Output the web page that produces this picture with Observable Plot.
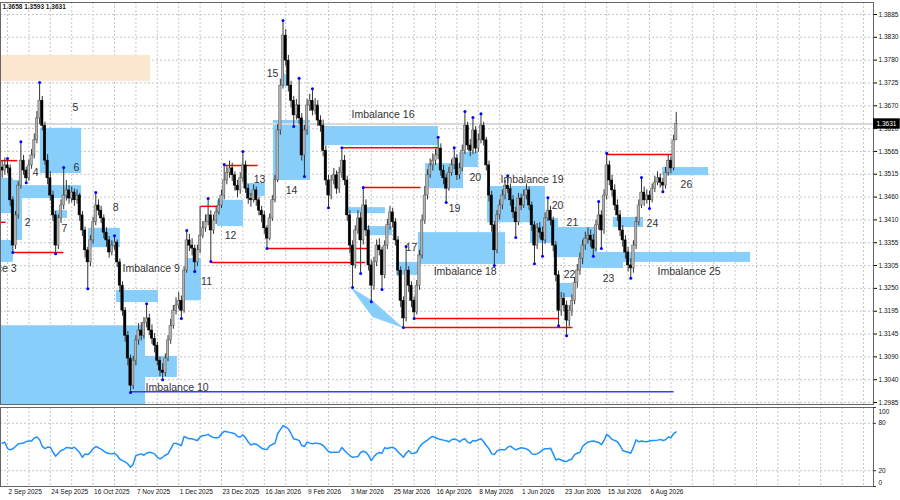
<!DOCTYPE html>
<html><head><meta charset="utf-8">
<script src="https://cdn.jsdelivr.net/npm/d3@7"></script>
<script src="https://cdn.jsdelivr.net/npm/@observablehq/plot@0.6"></script>
<style>
html,body{margin:0;padding:0;background:#fff;width:900px;height:500px;overflow:hidden;}
#chart svg{display:block;overflow:hidden;}
</style></head><body><div id="chart"></div>
<script>
// ---------- data (daily bars, open = previous close) ----------
const firstOpen = 1.3530;
const closes = [
1.3523,1.3535,1.3528,1.3454,1.3349,1.3419,1.3488,1.3546,1.3523,1.3505,
1.3535,1.3558,1.3593,1.3644,1.3685,1.3627,1.3546,1.3505,1.3465,1.3419,
1.3349,1.3412,1.3442,1.3465,1.3477,1.3458,1.3472,1.3454,1.3465,1.3419,
1.3384,1.3338,1.3310,1.3361,1.3403,1.3442,1.3430,1.3412,1.3379,1.3361,
1.3333,1.3349,1.3356,1.3310,1.3256,1.3198,1.3140,1.3087,1.3024,1.3082,
1.3129,1.3152,1.3140,1.3170,1.3180,1.3152,1.3133,1.3117,1.3082,1.3059,
1.3054,1.3087,1.3129,1.3163,1.3198,1.3210,1.3221,1.3198,1.3291,1.3361,
1.3349,1.3342,1.3310,1.3338,1.3372,1.3389,1.3403,1.3419,1.3384,1.3407,
1.3426,1.3442,1.3465,1.3500,1.3518,1.3528,1.3512,1.3488,1.3477,1.3505,
1.3535,1.3481,1.3458,1.3454,1.3477,1.3454,1.3430,1.3419,1.3389,1.3365,
1.3412,1.3454,1.3500,1.3616,1.3720,1.3836,1.3778,1.3720,1.3685,1.3651,
1.3674,1.3644,1.3558,1.3616,1.3674,1.3685,1.3662,1.3674,1.3639,1.3627,
1.3569,1.3500,1.3465,1.3500,1.3512,1.3481,1.3518,1.3546,1.3500,1.3419,
1.3349,1.3303,1.3384,1.3412,1.3361,1.3442,1.3384,1.3303,1.3256,1.3310,
1.3349,1.3338,1.3280,1.3349,1.3396,1.3426,1.3403,1.3361,1.3291,1.3221,
1.3180,1.3291,1.3256,1.3221,1.3194,1.3256,1.3326,1.3407,1.3465,1.3512,
1.3535,1.3546,1.3558,1.3574,1.3523,1.3505,1.3481,1.3518,1.3535,1.3551,
1.3512,1.3528,1.3569,1.3627,1.3581,1.3569,1.3616,1.3574,1.3593,1.3627,
1.3593,1.3535,1.3465,1.3396,1.3338,1.3419,1.3442,1.3465,1.3488,1.3480,
1.3454,1.3426,1.3403,1.3458,1.3442,1.3465,1.3477,1.3442,1.3396,1.3349,
1.3389,1.3379,1.3361,1.3412,1.3430,1.3407,1.3349,1.3280,1.3198,1.3226,
1.3210,1.3175,1.3198,1.3221,1.3263,1.3291,1.3319,1.3349,1.3365,1.3372,
1.3361,1.3342,1.3396,1.3419,1.3384,1.3465,1.3535,1.3500,1.3477,1.3442,
1.3419,1.3384,1.3361,1.3333,1.3303,1.3296,1.3349,1.3403,1.3442,1.3472,
1.3454,1.3465,1.3454,1.3481,1.3495,1.3505,1.3495,1.3488,1.3518,1.3546,
1.3528,1.3593,1.3631];
const highs = [
1.3545,1.3552,1.3551,1.3536,1.3462,1.3428,1.3497,1.3590,1.3558,1.3531,
1.3547,1.3572,1.3608,1.3660,1.3727,1.3695,1.3635,1.3560,1.3520,1.3475,
1.3428,1.3420,1.3455,1.3530,1.3500,1.3488,1.3485,1.3480,1.3478,1.3470,
1.3428,1.3392,1.3345,1.3372,1.3415,1.3472,1.3455,1.3440,1.3420,1.3390,
1.3370,1.3360,1.3372,1.3362,1.3318,1.3265,1.3205,1.3150,1.3095,1.3092,
1.3140,1.3168,1.3170,1.3182,1.3214,1.3190,1.3165,1.3145,1.3125,1.3090,
1.3075,1.3098,1.3140,1.3178,1.3210,1.3228,1.3240,1.3232,1.3300,1.3384,
1.3375,1.3365,1.3350,1.3350,1.3440,1.3405,1.3420,1.3458,1.3430,1.3420,
1.3440,1.3458,1.3478,1.3537,1.3532,1.3545,1.3540,1.3520,1.3500,1.3518,
1.3567,1.3545,1.3490,1.3470,1.3490,1.3485,1.3462,1.3440,1.3428,1.3395,
1.3422,1.3465,1.3512,1.3630,1.3735,1.3871,1.3850,1.3790,1.3730,1.3695,
1.3688,1.3737,1.3655,1.3628,1.3688,1.3700,1.3713,1.3690,1.3685,1.3650,
1.3640,1.3580,1.3512,1.3512,1.3528,1.3522,1.3530,1.3576,1.3558,1.3510,
1.3430,1.3360,1.3395,1.3430,1.3425,1.3484,1.3455,1.3395,1.3315,1.3322,
1.3362,1.3365,1.3345,1.3360,1.3410,1.3440,1.3435,1.3412,1.3370,1.3300,
1.3230,1.3347,1.3300,1.3265,1.3230,1.3268,1.3338,1.3420,1.3486,1.3525,
1.3550,1.3562,1.3572,1.3600,1.3585,1.3535,1.3515,1.3530,1.3548,1.3576,
1.3560,1.3540,1.3582,1.3660,1.3635,1.3595,1.3646,1.3625,1.3608,1.3655,
1.3635,1.3600,1.3545,1.3475,1.3405,1.3430,1.3455,1.3478,1.3500,1.3511,
1.3492,1.3465,1.3438,1.3470,1.3468,1.3478,1.3492,1.3485,1.3450,1.3405,
1.3400,1.3402,1.3392,1.3425,1.3460,1.3440,1.3415,1.3358,1.3290,1.3240,
1.3238,1.3220,1.3210,1.3235,1.3275,1.3305,1.3332,1.3362,1.3380,1.3390,
1.3385,1.3375,1.3408,1.3451,1.3430,1.3478,1.3563,1.3545,1.3512,1.3490,
1.3455,1.3430,1.3395,1.3372,1.3345,1.3318,1.3360,1.3415,1.3455,1.3507,
1.3485,1.3478,1.3475,1.3492,1.3510,1.3520,1.3515,1.3505,1.3530,1.3560,
1.3555,1.3605,1.3658];
const lows = [
1.3505,1.3512,1.3515,1.3440,1.3333,1.3340,1.3410,1.3480,1.3512,1.3495,
1.3498,1.3526,1.3550,1.3585,1.3630,1.3615,1.3535,1.3490,1.3452,1.3405,
1.3330,1.3340,1.3400,1.3432,1.3452,1.3445,1.3448,1.3440,1.3445,1.3405,
1.3370,1.3320,1.3249,1.3300,1.3352,1.3395,1.3418,1.3400,1.3365,1.3345,
1.3320,1.3325,1.3338,1.3298,1.3240,1.3185,1.3125,1.3070,1.3008,1.3015,
1.3070,1.3118,1.3128,1.3132,1.3158,1.3140,1.3120,1.3100,1.3070,1.3045,
1.3038,1.3045,1.3080,1.3120,1.3155,1.3188,1.3200,1.3180,1.3192,1.3285,
1.3335,1.3325,1.3289,1.3300,1.3330,1.3365,1.3380,1.3395,1.3312,1.3375,
1.3398,1.3420,1.3435,1.3455,1.3490,1.3505,1.3498,1.3475,1.3460,1.3468,
1.3495,1.3470,1.3445,1.3438,1.3448,1.3440,1.3418,1.3402,1.3375,1.3342,
1.3360,1.3405,1.3448,1.3495,1.3605,1.3712,1.3765,1.3705,1.3668,1.3625,
1.3640,1.3630,1.3545,1.3509,1.3605,1.3660,1.3650,1.3652,1.3625,1.3612,
1.3555,1.3488,1.3437,1.3455,1.3490,1.3468,1.3470,1.3505,1.3488,1.3405,
1.3330,1.3252,1.3295,1.3375,1.3284,1.3350,1.3370,1.3290,1.3219,1.3245,
1.3300,1.3325,1.3247,1.3272,1.3340,1.3385,1.3390,1.3348,1.3278,1.3205,
1.3159,1.3172,1.3240,1.3205,1.3180,1.3188,1.3245,1.3318,1.3398,1.3455,
1.3505,1.3522,1.3535,1.3548,1.3510,1.3490,1.3449,1.3475,1.3510,1.3525,
1.3500,1.3502,1.3520,1.3560,1.3570,1.3555,1.3560,1.3562,1.3565,1.3585,
1.3580,1.3522,1.3450,1.3380,1.3303,1.3330,1.3408,1.3432,1.3455,1.3470,
1.3440,1.3412,1.3368,1.3395,1.3430,1.3435,1.3455,1.3430,1.3382,1.3307,
1.3340,1.3365,1.3324,1.3352,1.3405,1.3395,1.3335,1.3265,1.3163,1.3185,
1.3195,1.3140,1.3160,1.3185,1.3212,1.3250,1.3280,1.3305,1.3338,1.3352,
1.3345,1.3324,1.3335,1.3385,1.3342,1.3375,1.3455,1.3488,1.3462,1.3430,
1.3405,1.3370,1.3345,1.3318,1.3288,1.3273,1.3285,1.3340,1.3395,1.3435,
1.3440,1.3445,1.3435,1.3448,1.3472,1.3488,1.3482,1.3474,1.3480,1.3510,
1.3515,1.3522,1.3593];
const oscillator = [
55,56,48,46.4,47.7,50.7,54,54.5,55,57,
57.5,57.5,61.3,62.6,59.2,50.7,48,49.8,49.8,43.4,
38.3,42.1,45.5,46.8,49.4,49,48.1,49.8,46.4,42.6,
37,41.3,40.4,43.4,47.7,50.7,49,47.2,44.7,42.6,
41.7,41.3,42.1,39.2,34.5,32.8,31.1,28.5,24.3,28.5,
39.2,40.4,41.3,39.6,42.1,43.4,42.6,41.3,37,34.9,
37,39.6,41.3,47.7,54,54.9,53.2,51.9,63.4,61.7,
60.4,60.4,59.2,58.3,62.6,64.7,64.7,66,63.4,62.1,
61.7,62.1,66.8,69.8,69.4,68.5,67.7,66.8,63.4,62.6,
65.5,61.7,56.2,52.4,54,53.6,51.1,48.5,47.2,46.8,
51.5,53.2,54.9,66.8,71.9,77,75.3,72.8,66.8,60.4,
59.6,58.3,51.9,50.7,56.2,54.9,54,54.9,54.5,54,
51.9,48.1,44.3,43,43.4,43.4,43.8,49.4,45.5,42.1,
39.2,37,37.5,37.9,43,44.7,43.4,39.2,32.8,37.9,
41.3,43,42.1,49,48.1,49,49.8,47.7,43.8,40.4,
37,42.1,45.5,41.7,42.1,43.4,49.8,54,56.6,58.7,
61.7,63.4,61.7,60.4,59.6,58.7,57.9,56.6,59.2,60,
59.2,56.6,59.2,60.4,56.2,54.9,58.3,57.5,59.2,60.4,
56.6,51.9,47.7,41.3,40.4,45.1,46.4,46.4,46.4,49.8,
51.1,48.5,46.4,47.7,49,48.5,47.7,45.5,41.3,40.4,
41.3,43.4,46.4,47.7,47.7,48.5,41.3,33.6,34.9,33.6,
31.9,31.5,33.6,34.9,40.4,42.1,43.4,50.7,54,56.2,
57,57.5,56.6,55.8,52.8,58.3,66,63.4,59.6,58.3,
56.6,51.9,45.5,44.3,43.4,42.1,49.8,59.2,56.6,57.5,
57,56.6,57.5,58.3,58.3,58.7,59.6,58.3,59.2,62.6,
61.7,66.8,69];

const dateLabels = ["2 Sep 2025","24 Sep 2025","16 Oct 2025","7 Nov 2025","1 Dec 2025","23 Dec 2025","16 Jan 2026","9 Feb 2026","3 Mar 2026","25 Mar 2026","16 Apr 2026","8 May 2026","1 Jun 2026","23 Jun 2026","15 Jul 2026","6 Aug 2026"];
const firstLabelBar = 2, barsPerLabel = 16;
const yTickLabels = ["1.2985","1.3040","1.3090","1.3145","1.3195","1.3250","1.3305","1.3355","1.3410","1.3460","1.3515","1.3565","1.3620","1.3670","1.3725","1.3780","1.3830","1.3885"];
const yLow = 1.2985, yHigh = 1.3885;
const oscTicks = [100, 80, 20, 0];

// zones: [startBar, endBar, top, bottom]
const supplyZones = [[-0.6, 55.5, 1.3790, 1.3730]];
const imbalanceZones = [
 [14.3,29.7,1.3621,1.3516],[7.6,29.7,1.3488,1.3458],[-0.6,4.2,1.3505,1.3423],[4.2,7.6,1.3500,1.3361],
 [-0.6,4.2,1.3361,1.3310],[18.8,24.4,1.3430,1.3412],[32.3,44.2,1.3389,1.3344],[42.7,58.4,1.3245,1.3217],
 [-0.6,53.6,1.3163,1.2978],[53.6,65.5,1.3092,1.3043],[68.5,74.5,1.3319,1.3221],[80.5,90.2,1.3454,1.3393],
 [91.7,98.4,1.3493,1.3463],[101.4,115.3,1.3639,1.3500],[104.8,107.4,1.3746,1.3718],[119.8,163.1,1.3625,1.3581],
 [128.4,143.3,1.3437,1.3423],[136.6,145.9,1.3393,1.3372],[147.4,156.4,1.3310,1.3280],[155.6,188.2,1.3379,1.3305],
 [158.3,172.5,1.3539,1.3481],[171.0,178.1,1.3565,1.3530],[181.4,203.1,1.3486,1.3402],[197.5,208.0,1.3412,1.3354],
 [206.1,222.6,1.3391,1.3321],[207.6,213.2,1.3261,1.3228],[216.2,232.3,1.3333,1.3296],[222.6,279.8,1.3333,1.3310],
 [228.5,239.8,1.3414,1.3391],[246.9,264.1,1.3530,1.3511]];
const wedge = [[130.2,1.3252],[138.4,1.3221],[149.7,1.3159],[138.4,1.3184]];
// levels: [startBar, endBar, price]
const redLevels = [[-0.6,5.7,1.3546],[-0.6,1.3,1.3403],[3.9,22.9,1.3333],[74.2,80.5,1.3440],[78.3,135.8,1.3310],
 [83.1,95.5,1.3535],[99.2,136.6,1.3342],[127.2,163.1,1.3576],[135.1,156.4,1.3484],[154.1,208.0,1.3180],
 [150.0,213.2,1.3159],[226.0,251.0,1.3560]];
const blueLevels = [[48,251,1.3010]];
const pivotBars = [2,4,7,9,14,20,23,32,35,42,48,54,60,67,69,72,77,78,83,90,99,105,109,111,113,116,122,127,131,134,135,138,142,150,151,154,163,166,169,173,176,179,184,189,192,199,202,204,208,211,221,223,224,226,235,239,242,247];
const pivotSides = ["H","L","H","L","H","L","H","L","H","H","L","H","L","L","H","L","H","L","H","H","L","H","L","H","L","H","L","H","L","L","H","L","L","L","H","L","H","L","H","H","H","H","L","H","L","L","L","H","L","L","L","H","L","H","L","H","L","L"];
const labelTexts = ["2","Imbalance 3","4","5","6","7","8","Imbalance 9","Imbalance 10","11","12","13","14","15","Imbalance 16","17","Imbalance 18","19","20","Imbalance 19","20","21","22","23","24","Imbalance 25","26"];
const labelBars = [9.5,5.4,12.5,27.4,27.8,23.3,42.4,45,53.6,76.4,85.4,96.2,108.2,101.1,130.6,153,161.3,169.1,176.9,186.3,207.6,213.2,212.1,226.7,243.1,245,255.8];
const labelPrices = [1.3402,1.3296,1.3518,1.3669,1.3530,1.3389,1.3437,1.3296,1.3020,1.3266,1.3372,1.3502,1.3477,1.3748,1.3653,1.3344,1.3289,1.3435,1.3507,1.3502,1.3442,1.3402,1.3282,1.3272,1.3400,1.3289,1.3491];

// ---------- build ----------
const xDomain = [-0.62, 325.74];
const bars = closes.map((c, i) => ({i, o: i === 0 ? firstOpen : closes[i - 1], h: highs[i], l: lows[i], c}));
const bull = bars.filter(d => d.c >= d.o), bear = bars.filter(d => d.c < d.o);
const last = bars[bars.length - 1];
const gridIdx = d3.range(firstLabelBar, xDomain[1], barsPerLabel / 2);
const dateIdx = dateLabels.map((_, k) => firstLabelBar + k * barsPerLabel);
const yTickVals = yTickLabels.map((_, k) => yLow + k * (yHigh - yLow) / (yTickLabels.length - 1));
const pivots = pivotBars.map((b, k) => ({x: b, y: pivotSides[k] === "H" ? highs[b] : lows[b]}));
const labels = labelTexts.map((t, k) => ({t, x: labelBars[k], y: labelPrices[k]}));
const isImb = d => d.t.startsWith("Imbalance");
const grid = {stroke: "#c6c6c6", strokeDasharray: "2,2", strokeWidth: 1};
const font = "'Liberation Sans', Arial, sans-serif";
const zoneCh = {x1: d => d[0], x2: d => d[1], y1: d => d[2], y2: d => d[3]};
const body = {x1: d => d.i - 0.45, x2: d => d.i + 0.45, y1: "o", y2: "c"};

const main = Plot.plot({
  width: 900, height: 406, marginLeft: 0, marginRight: 27, marginTop: 2, marginBottom: 2,
  x: {domain: xDomain, axis: null},
  y: {domain: [1.29804, 1.39128], axis: null},
  style: {fontFamily: font, background: "#fff", overflow: "hidden"},
  marks: [
    Plot.ruleX(gridIdx, grid),
    Plot.ruleY(yTickVals, grid),
    Plot.rect(supplyZones, {...zoneCh, fill: "#fbe6d0"}),
    Plot.rect(imbalanceZones, {...zoneCh, fill: "#87cefa"}),
    Plot.line(wedge, {x: d => d[0], y: d => d[1], fill: "#87cefa", stroke: "#87cefa", strokeWidth: 0.5}),
    Plot.ruleY([last.c], {stroke: "#d9d9d9", strokeWidth: 2}),
    Plot.link(redLevels, {x1: d => d[0], x2: d => d[1], y1: d => d[2], y2: d => d[2], stroke: "#ff0000", strokeWidth: 1.5}),
    Plot.link(blueLevels, {x1: d => d[0], x2: d => d[1], y1: d => d[2], y2: d => d[2], stroke: "#3b3bff", strokeWidth: 1.6}),
    Plot.ruleX(bars, {x: "i", y1: "l", y2: "h", stroke: "#333", strokeWidth: 1}),
    Plot.rect(bull, {...body, fill: "#b3b3b3", stroke: "#555", strokeWidth: 0.5}),
    Plot.rect(bear, {...body, fill: "#000", stroke: "#000", strokeWidth: 0.5}),
    Plot.dot(pivots, {x: "x", y: "y", r: 1.5, fill: "#0000ff", stroke: "none"}),
    Plot.text(labels.filter(d => !isImb(d)), {x: "x", y: "y", text: "t", fontSize: 10.5, fill: "#333"}),
    Plot.text(labels.filter(d => isImb(d) && d.t !== "Imbalance 3"), {x: "x", y: "y", text: "t", fontSize: 10.5, fill: "#333", textAnchor: "start"}),
    Plot.text(labels.filter(d => d.t === "Imbalance 3"), {x: "x", y: "y", text: "t", fontSize: 10.5, fill: "#333", textAnchor: "end"}),
    Plot.axisY(yTickVals, {anchor: "right", tickSize: 3, tickPadding: 2, fontSize: 6.5, fill: "#111",
      tickFormat: d => yTickLabels[yTickVals.indexOf(d)], label: null}),
    Plot.frame({stroke: "#666"}),
    Plot.rect([last.c], {x1: xDomain[1], x2: xDomain[1] + 10, y1: d => d - 0.0012, y2: d => d + 0.0012, fill: "#000"}),
    Plot.text([last.c], {x: xDomain[1], y: d => d, text: d => d.toFixed(4), dx: 3, textAnchor: "start", fill: "#fff", fontSize: 6.5}),
    Plot.text([`${last.h.toFixed(4)} ${last.l.toFixed(4)} ${last.c.toFixed(4)}`], {frameAnchor: "top-left", dx: 2, dy: 2, fontSize: 6.5, fontWeight: "bold", fill: "#222"})
  ]
});

const osc = Plot.plot({
  width: 900, height: 94, marginLeft: 0, marginRight: 27, marginTop: 1, marginBottom: 14,
  x: {domain: xDomain, axis: null},
  y: {domain: [0, 100], axis: null},
  style: {fontFamily: font, background: "#fff", overflow: "hidden"},
  marks: [
    Plot.ruleX(gridIdx, grid),
    Plot.ruleY([20, 80], grid),
    Plot.line(oscillator, {x: (d, i) => i, y: d => d, stroke: "#1e90ff", strokeWidth: 1.5}),
    Plot.frame({stroke: "#666"}),
    Plot.ruleY(oscTicks, {x1: xDomain[1], x2: xDomain[1] + 1.1, stroke: "#333"}),
    Plot.text(oscTicks.filter(v => v > 0 && v < 100), {frameAnchor: "right", y: d => d, text: d => String(d), dx: 5, textAnchor: "start", fontSize: 6.5, fill: "#111"}),
    Plot.text(oscTicks.filter(v => v === 100), {frameAnchor: "right", y: d => d, text: d => String(d), dx: 5, dy: 4, textAnchor: "start", fontSize: 6.5, fill: "#111"}),
    Plot.text(oscTicks.filter(v => v === 0), {frameAnchor: "right", y: d => d, text: d => String(d), dx: 5, dy: -4, textAnchor: "start", fontSize: 6.5, fill: "#111"}),
    Plot.text(dateIdx, {x: d => d, text: (d, k) => dateLabels[k], frameAnchor: "bottom", dy: 7, dx: 1, textAnchor: "start", fontSize: 6.5, fill: "#111"})
  ]
});

document.getElementById("chart").append(main, osc);
</script></body></html>
